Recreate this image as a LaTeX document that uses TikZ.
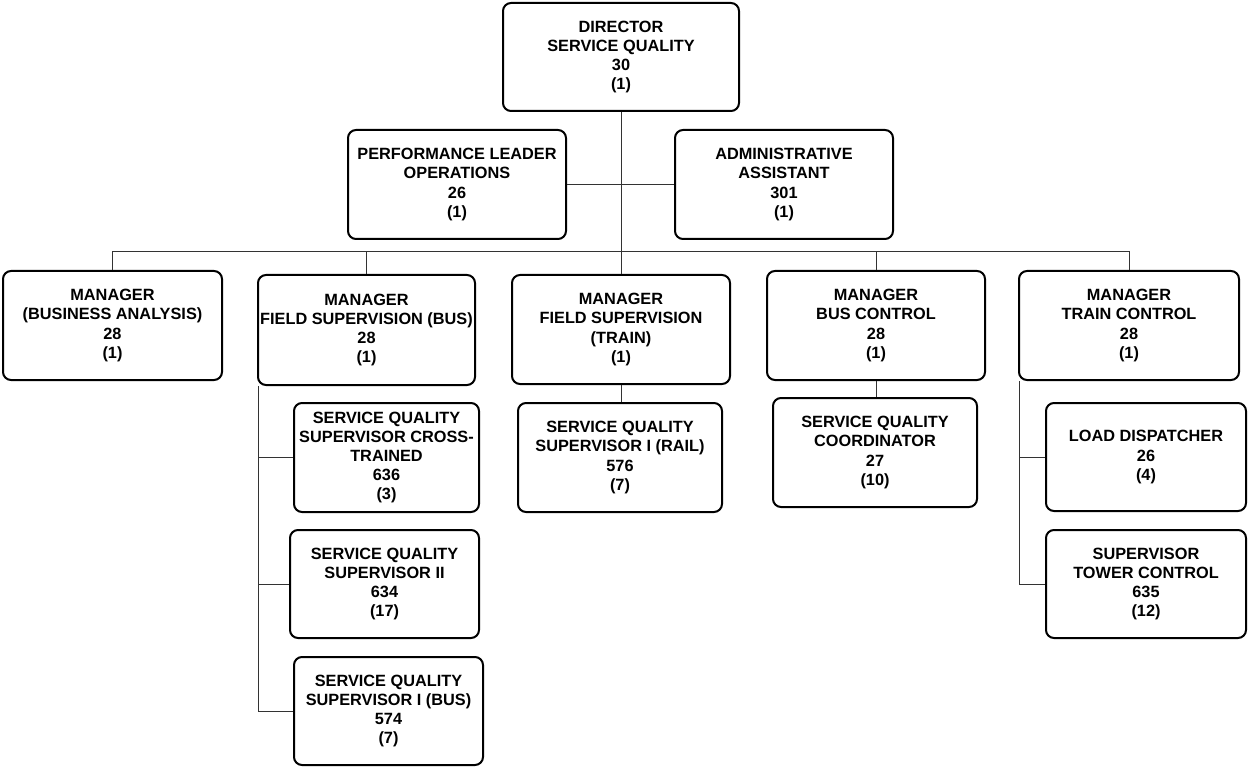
\documentclass[tikz,border=0pt]{standalone}
\usepackage{fontspec}
\setmainfont{Liberation Sans}
\newcommand\orgbox[6]{%
  \node[box, minimum width={#4-#2}, minimum height={#5-#3}] (#1) at ({(#2+#4)/2},{(#3+#5)/2}) {#6};}
\begin{document}
\begin{tikzpicture}[x=1pt,y=-1pt,
  box/.style={draw=black, line width=2pt, rounded corners=8pt, align=center, inner sep=0pt,
    font=\fontsize{16.3}{19.2}\selectfont\bfseries},
  link/.style={draw=black!80, line width=1pt}]
\useasboundingbox (0,0) rectangle (1248,767);
% level 0/1
\orgbox{dir}{503}{3}{739}{111}{DIRECTOR\\SERVICE QUALITY\\30\\(1)}
\orgbox{perf}{348}{130}{566}{239}{PERFORMANCE LEADER\\OPERATIONS\\26\\(1)}
\orgbox{adm}{675}{130}{893}{239}{ADMINISTRATIVE\\ASSISTANT\\301\\(1)}
% managers
\orgbox{mba}{3}{271}{222}{380}{MANAGER\\(BUSINESS ANALYSIS)\\28\\(1)}
\orgbox{fsb}{258}{275}{475}{385}{MANAGER\\FIELD SUPERVISION (BUS)\\28\\(1)}
\orgbox{fst}{512}{275}{730}{384}{MANAGER\\FIELD SUPERVISION\\(TRAIN)\\(1)}
\orgbox{mbc}{767}{271}{985}{380}{MANAGER\\BUS CONTROL\\28\\(1)}
\orgbox{mtc}{1019}{271}{1239}{380}{MANAGER\\TRAIN CONTROL\\28\\(1)}
% staff
\orgbox{sq3}{294}{403}{479}{512}{SERVICE QUALITY\\SUPERVISOR CROSS-\\TRAINED\\636\\(3)}
\orgbox{sq2}{290}{530}{479}{638}{SERVICE QUALITY\\SUPERVISOR II\\634\\(17)}
\orgbox{sq1}{294}{657}{483}{765}{SERVICE QUALITY\\SUPERVISOR I (BUS)\\574\\(7)}
\orgbox{rail}{518}{403}{722}{512}{SERVICE QUALITY\\SUPERVISOR I (RAIL)\\576\\(7)}
\orgbox{coord}{773}{398}{977}{507}{SERVICE QUALITY\\COORDINATOR\\27\\(10)}
\orgbox{load}{1046}{403}{1246}{511}{LOAD DISPATCHER\\26\\(4)}
\orgbox{tower}{1046}{530}{1246}{638}{SUPERVISOR\\TOWER CONTROL\\635\\(12)}
% connectors
\coordinate (bus) at (0,252);
\draw[link] (perf.east) -- (adm.west);
\draw[link] (dir.south) -- (dir.south |- fst.north);
\draw[link] (mba.north) -- (mba.north |- bus) -- (mtc.north |- bus) -- (mtc.north);
\draw[link] (fsb.north) -- (fsb.north |- bus);
\draw[link] (mbc.north) -- (mbc.north |- bus);
\draw[link] (fst.south) -- (fst.south |- rail.north);
\draw[link] (mbc.south) -- (mbc.south |- coord.north);
\coordinate (lt) at ([xshift=1pt]fsb.south west);
\draw[link] (lt) -- (lt |- sq1.west) -- (sq1.west);
\draw[link] (lt |- sq3.west) -- (sq3.west);
\draw[link] (lt |- sq2.west) -- (sq2.west);
\coordinate (rt) at ([xshift=1pt]mtc.south west);
\draw[link] (rt) -- (rt |- tower.west) -- (tower.west);
\draw[link] (rt |- load.west) -- (load.west);
\end{tikzpicture}
\end{document}
